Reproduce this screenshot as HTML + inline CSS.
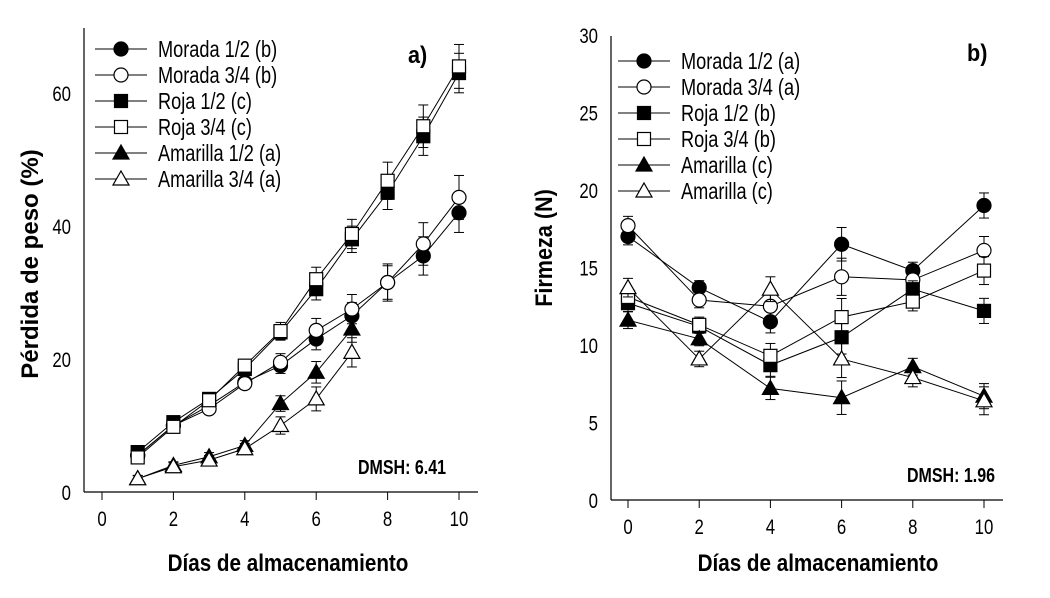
<!DOCTYPE html>
<html><head><meta charset="utf-8"><style>
body{margin:0;background:#fff}
svg{display:block;font-family:"Liberation Sans",sans-serif}
</style></head><body>
<svg id="c" width="1050" height="598" viewBox="0 0 1050 598"></svg>
<script>
const daysA=[1,2,3,4,5,6,7,8,9,10];
const morada12A=[5.5,10,13,16.5,19,23,26.5,31.5,35.5,42];
const morada34A=[5.5,10,12.5,16.3,19.5,24.3,27.5,31.5,37.3,44.3];
const roja12A=[6,10.5,14,18.5,24,30.5,38,45,53.5,63];
const roja34A=[5.2,9.8,13.8,19,24.2,32,38.8,46.8,55,64];
const amar12A=[2,4,5.3,7,13.3,18,24.5];
const amar34A=[2,3.8,4.8,6.5,10,14,21];
const errA=[0.5,0.6,0.7,0.8,1.3,1.8,2.2,2.8,3.2,3.3];
const labelsA=["Morada 1/2 (b)","Morada 3/4 (b)","Roja 1/2 (c)","Roja 3/4 (c)","Amarilla 1/2 (a)","Amarilla 3/4 (a)"];
const ticksXA=[0,2,4,6,8,10];const ticksYA=[0,20,40,60];

const daysB=[0,2,4,6,8,10];
const morada12B=[17,13.7,11.5,16.5,14.8,19];
const morada34B=[17.7,12.9,12.5,14.4,14.2,16.1];
const roja12B=[12.7,11.2,8.7,10.5,13.6,12.2];
const roja34B=[13.1,11.3,9.3,11.8,12.8,14.8];
const amar1B=[11.6,10.4,7.2,6.6,8.6,6.7];
const amar2B=[13.7,9.1,13.6,9.1,7.9,6.4];
const errB=[0.6,0.5,0.8,1.2,0.6,0.9];
const labelsB=["Morada 1/2 (a)","Morada 3/4 (a)","Roja 1/2 (b)","Roja 3/4 (b)","Amarilla (c)","Amarilla (c)"];
const ticksXB=[0,2,4,6,8,10];const ticksYB=[0,5,10,15,20,25,30];

const NS="http://www.w3.org/2000/svg";const svg=document.getElementById('c');
function el(t,a,p){const e=document.createElementNS(NS,t);for(const k in a)e.setAttribute(k,a[k]);(p||svg).appendChild(e);return e;}
function txt(g,x,y,s,size,anchor,bold,sx,rot){
  const t=el("text",{x:0,y:0,"font-size":size,"text-anchor":anchor||"start","font-weight":bold?"bold":"normal",
    transform:`translate(${x},${y})`+(rot?` rotate(${rot})`:"")+` scale(${sx||0.85},1)`},g);
  t.textContent=s;return t;}
const markers=[["circle",1],["circle",0],["square",1],["square",0],["tri",1],["tri",0]];
function marker(g,kind,fill,x,y){
  const f=fill?"#000":"#fff";let m;
  if(kind=="circle")m=el("circle",{cx:x,cy:y,r:7,fill:f,stroke:"#000","stroke-width":1.2},g);
  else if(kind=="square")m=el("rect",{x:x-6.5,y:y-6.5,width:13,height:13,fill:f,stroke:"#000","stroke-width":1.2},g);
  else m=el("polygon",{points:`${x},${y-8} ${x+8},${y+6} ${x-8},${y+6}`,fill:f,stroke:"#000","stroke-width":1.2},g);
  
  
}
function panel(o){
  const g=el("g",{});
  
  
  const sx=v=>o.x0+(v-o.xmin)*o.kx, sy=v=>o.y0-v*o.ky;
  el("line",{x1:o.ax,y1:o.top,x2:o.ax,y2:o.y0,stroke:"#000","stroke-width":1.2},g);
  el("line",{x1:o.ax,y1:o.y0,x2:o.right,y2:o.y0,stroke:"#000","stroke-width":1.2},g);
  o.tx.forEach(t=>{el("line",{x1:sx(t),y1:o.y0,x2:sx(t),y2:o.y0+8,stroke:"#000"},g);
    txt(g,sx(t),o.y0+34,String(t),21,"middle",false,0.8);});
  o.ty.forEach(t=>{txt(g,o.ax-13,sy(t)+8,String(t),21,"end",false,0.8);});
  o.series.forEach((s,i)=>{
    const xs=o.days.slice(0,s.length);
    el("polyline",{points:xs.map((d,j)=>sx(d)+","+sy(s[j])).join(" "),fill:"none",stroke:"#000","stroke-width":1},g);
    xs.forEach((d,j)=>{const e=o.err[j]*(i%2?1:0.9);
      el("line",{x1:sx(d),y1:sy(s[j]-e),x2:sx(d),y2:sy(s[j]+e),stroke:"#000"},g);
      [s[j]-e,s[j]+e].forEach(v=>el("line",{x1:sx(d)-5,y1:sy(v),x2:sx(d)+5,y2:sy(v),stroke:"#000"},g));});
    xs.forEach((d,j)=>marker(g,markers[i][0],markers[i][1],sx(d),sy(s[j])));
  });
  o.labels.forEach((l,i)=>{const y=o.ly+i*26;
    el("line",{x1:o.lx,y1:y,x2:o.lx+52,y2:y,stroke:"#000"},g);
    marker(g,markers[i][0],markers[i][1],o.lx+26,y);
    const t=txt(g,o.lx+63,y+8,l,23,"start",false,0.79);
    });
  txt(g,o.px,o.py,o.plabel,24,"start",true,0.9);
  txt(g,o.dx,o.dy,o.dmsh,20,"end",true,0.8);
  const xt=txt(g,o.xtx,571,"Días de almacenamiento",24,"middle",true,0.86);
  
  const yt=txt(g,o.ytx,o.yty,o.ytitle,24,"middle",true,o.ysx,-90);
  
}
panel({name:"chart-a",ax:84,top:28,right:478,y0:492,x0:102,xmin:0,kx:35.7,ky:6.65,tx:ticksXA,ty:ticksYA,days:daysA,
  series:[morada12A,morada34A,roja12A,roja34A,amar12A,amar34A],err:errA,labels:labelsA,lx:95,ly:49,
  px:408,py:63,plabel:"a)",dx:446,dy:474,dmsh:"DMSH: 6.41",xtx:288,ytitle:"Pérdida de peso (%)",ytx:38,yty:264,ysx:1.0});
panel({name:"chart-b",ax:611,top:36,right:1003,y0:500,x0:628,xmin:0,kx:35.6,ky:15.5,tx:ticksXB,ty:ticksYB,days:daysB,
  series:[morada12B,morada34B,roja12B,roja34B,amar1B,amar2B],err:errB,labels:labelsB,lx:618,ly:61,
  px:967,py:61,plabel:"b)",dx:995,dy:482,dmsh:"DMSH: 1.96",xtx:818,ytitle:"Firmeza (N)",ytx:552,yty:248,ysx:0.9});
</script>
</body></html>
